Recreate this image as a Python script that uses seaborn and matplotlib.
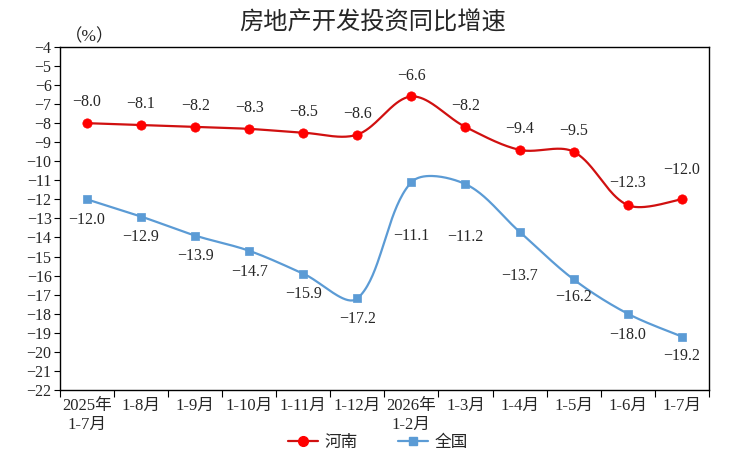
import numpy as np
import matplotlib
matplotlib.use("Agg")
import matplotlib.pyplot as plt
import seaborn as sns
from matplotlib.lines import Line2D

categories = ["2025年\n1-7月", "1-8月", "1-9月", "1-10月", "1-11月", "1-12月",
              "2026年\n1-2月", "1-3月", "1-4月", "1-5月", "1-6月", "1-7月"]
henan = [-8.0, -8.1, -8.2, -8.3, -8.5, -8.6, -6.6, -8.2, -9.4, -9.5, -12.3, -12.0]
national = [-12.0, -12.9, -13.9, -14.7, -15.9, -17.2, -11.1, -11.2, -13.7, -16.2, -18.0, -19.2]

# label offsets in points (vertical)
henan_off = [15, 15, 15, 15, 15, 15, 15, 15, 15, 15, 16, 21]
national_off = [-15, -15, -15, -15, -15, -15, -39, -38, -32, -13, -15, -14]

sns.set_style("white")
plt.rcParams["font.family"] = ["Liberation Serif", "Noto Sans CJK SC"]
plt.rcParams["axes.unicode_minus"] = True


def smooth(y, n=40, xscale=2.84):
    # bezier smoothing, control points scaled by chord length in screen units (excel-like)
    y = np.asarray(y, float)
    x = np.arange(len(y), dtype=float) * xscale
    pts = np.column_stack([x, y])
    m = len(pts)
    out = []
    for i in range(m - 1):
        p0, p1 = pts[max(i - 1, 0)], pts[i]
        p2, p3 = pts[i + 1], pts[min(i + 2, m - 1)]
        l01 = np.hypot(*(p1 - p0))
        l12 = np.hypot(*(p2 - p1))
        l23 = np.hypot(*(p3 - p2))
        f1 = 2 * l12 / (l01 + l12) if i > 0 else 1.0
        f2 = 2 * l12 / (l12 + l23) if i + 2 < m else 1.0
        c1 = p1 + (p2 - p0) / 6 * f1
        c2 = p2 - (p3 - p1) / 6 * f2
        t = np.linspace(0, 1, n, endpoint=(i == m - 2))[:, None]
        seg = (1 - t) ** 3 * p1 + 3 * (1 - t) ** 2 * t * c1 + 3 * (1 - t) * t ** 2 * c2 + t ** 3 * p2
        out.append(seg)
    out = np.vstack(out)
    return out[:, 0] / xscale, out[:, 1]


fig = plt.figure(figsize=(7.36, 4.72), dpi=100)
ax = fig.add_axes([0.0815, 0.174, 0.8815, 0.7265])

red_line, red_mk = "#D01010", "#FF0000"
blue_line, blue_mk = "#5B9BD5", "#5B9BD5"

xi = np.arange(len(categories))
for vals, lc, mc, mk in [(henan, red_line, red_mk, "o"), (national, blue_line, blue_mk, "s")]:
    sx, sy = smooth(vals)
    sns.lineplot(x=sx, y=sy, ax=ax, color=lc, linewidth=1.6, sort=False, estimator=None)
    sns.scatterplot(x=xi, y=vals, ax=ax, color=mc, marker=mk, s=45 if mk == "o" else 38,
                    edgecolor=mc, linewidth=0.5, zorder=3)

for i, v in enumerate(henan):
    ax.annotate(f"{v:.1f}".replace("-", "\u2212"), (i, v), xytext=(0, henan_off[i]),
                textcoords="offset points", ha="center", va="center", fontsize=11.5)
for i, v in enumerate(national):
    ax.annotate(f"{v:.1f}".replace("-", "\u2212"), (i, v), xytext=(0, national_off[i]),
                textcoords="offset points", ha="center", va="center", fontsize=11.5)

ax.set_xlim(-0.5, len(categories) - 0.5)
ax.set_ylim(-22, -4)
ax.set_yticks(range(-22, -3))
ax.set_yticklabels([f"\u2212{abs(v)}" for v in range(-22, -3)], fontsize=11.5)
ax.set_xticks(xi)
ax.set_xticklabels(categories, fontsize=12, linespacing=1.2, va="top")
ax.set_xticks(np.arange(-0.5, len(categories), 1), minor=True)
ax.tick_params(axis="x", which="major", length=0, pad=6)
ax.tick_params(axis="x", which="minor", length=5, width=0.8, direction="out", color="black")
ax.tick_params(axis="y", length=4, width=0.8, direction="out", color="black", pad=2)
ax.xaxis.set_ticks_position("bottom")
ax.yaxis.set_ticks_position("left")
for s in ax.spines.values():
    s.set_color("black")
    s.set_linewidth(1.0)
for lbl in ax.get_xticklabels():
    lbl.set_horizontalalignment("center")

fig.text(0.506, 0.951, "房地产开发投资同比增速", ha="center", va="center", fontsize=17.5)
fig.text(0.122, 0.922, "（%）", ha="center", va="center", fontsize=12.5)

handles = [Line2D([], [], color=red_line, marker="o", markerfacecolor=red_mk, markeredgecolor=red_mk,
                  markersize=7, linewidth=1.6),
           Line2D([], [], color=blue_line, marker="s", markerfacecolor=blue_mk, markeredgecolor=blue_mk,
                  markersize=6, linewidth=1.6)]
fig.legend(handles, ["河南", "全国"], loc="center", bbox_to_anchor=(0.513, 0.062), ncol=2,
           frameon=False, fontsize=12, handlelength=1.8, columnspacing=2.4, handletextpad=0.4)

fig.savefig("out.png", dpi=100, facecolor="white")
